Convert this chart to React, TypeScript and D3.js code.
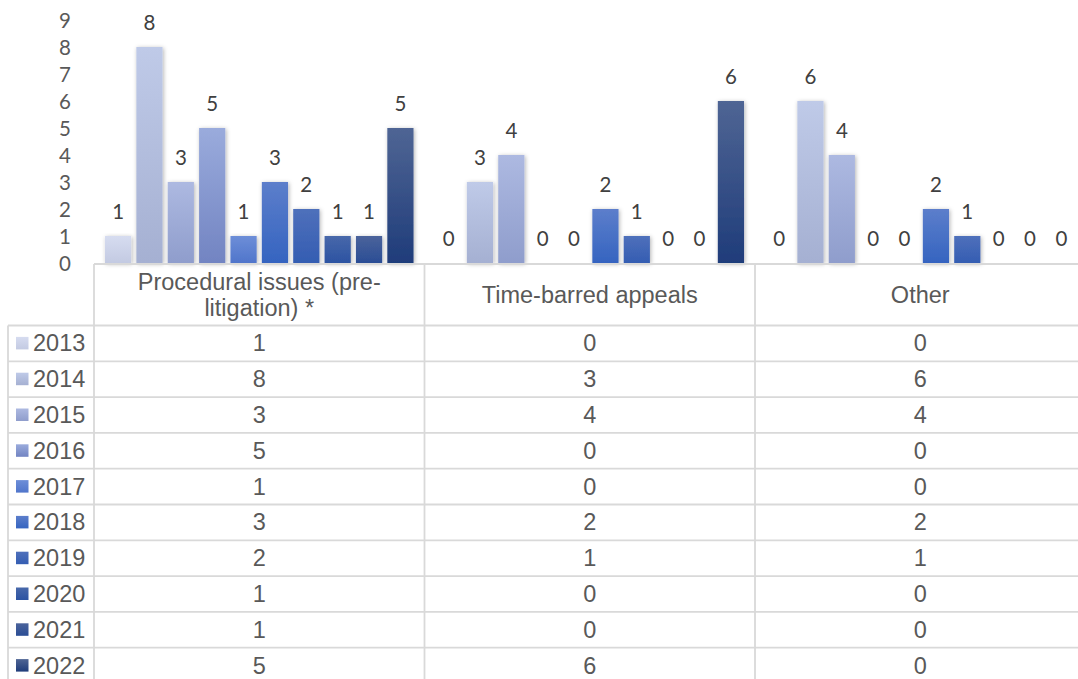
import React from "react";
import * as d3 from "d3";

const categories = ["Procedural issues (pre-litigation) *", "Time-barred appeals", "Other"];
const categoryLines = [["Procedural issues (pre-", "litigation) *"], ["Time-barred appeals"], ["Other"]];
const years = ["2013", "2014", "2015", "2016", "2017", "2018", "2019", "2020", "2021", "2022"];
const procedural = [1, 8, 3, 5, 1, 3, 2, 1, 1, 5];
const timeBarred = [0, 3, 4, 0, 0, 2, 1, 0, 0, 6];
const other = [0, 6, 4, 0, 0, 2, 1, 0, 0, 0];
const seriesByCategory = [procedural, timeBarred, other];
const yTicks = [0, 1, 2, 3, 4, 5, 6, 7, 8, 9];
const topColors = ["#d6dcf0", "#bfcae8", "#adb9e1", "#9aabdc", "#6d8ed8", "#5c7ecb", "#4f70bb", "#4868aa", "#4b639b", "#4f6594"];
const bottomColors = ["#c3cae2", "#a5b0d2", "#8f9dcc", "#7284c2", "#5075cb", "#3564c0", "#345db2", "#2c53a2", "#2a4d95", "#1f3c7a"];

export default function App() {
  const width = 1078;
  const height = 679;
  const plotLeft = 94;
  const catW = 330.5;
  const plotRight = plotLeft + catW * categories.length;
  const y = d3.scaleLinear().domain([0, 9]).range([263, 20]);
  const x0 = d3.scaleBand<string>().domain(categories).range([plotLeft, plotRight]).padding(0);
  const x1 = d3.scaleBand<string>().domain(years).range([0, x0.bandwidth()]).paddingInner(0.165).paddingOuter(0.35);
  const tableTop = 264;
  const headerBottom = 325.5;
  const rowH = 35.8;
  const lineColor = "#d9d9d9";
  const tableFont = "'Liberation Sans', Arial, sans-serif";
  const numFont = "Lato, 'Noto Sans', sans-serif";
  const tfs = 23.5;
  const nfs = 20.5;

  return (
    <svg width={width} height={height} style={{ position: "absolute", left: 0, top: 0, background: "#fff" }}>
      <defs>
        {years.map((yr, i) => (
          <linearGradient key={yr} id={`g${i}`} x1="0" y1="0" x2="0" y2="1">
            <stop offset="0%" stopColor={topColors[i]} />
            <stop offset="100%" stopColor={bottomColors[i]} />
          </linearGradient>
        ))}
        <filter id="sh" x="-30%" y="-10%" width="160%" height="130%">
          <feDropShadow dx="1" dy="1" stdDeviation="2" floodColor="#000" floodOpacity="0.3" />
        </filter>
      </defs>
      <rect x={0} y={0} width={width} height={height} fill="#fff" />

      {/* y tick labels */}
      {yTicks.map((t) => (
        <text key={t} x={71} y={y(t)} textAnchor="end" dominantBaseline="central" fontFamily={numFont} fontSize={nfs} fill="#595959">
          {t}
        </text>
      ))}

      {/* bars */}
      {categories.map((c, ci) => (
        <g key={c} transform={`translate(${x0(c)},0)`}>
          {years.map((yr, i) => {
            const v = seriesByCategory[ci][i];
            const bx = x1(yr)!;
            return (
              <g key={yr}>
                {v > 0 && (
                  <rect x={bx} y={y(v)} width={x1.bandwidth()} height={y(0) - y(v)} fill={`url(#g${i})`} filter="url(#sh)" />
                )}
                <text x={bx + x1.bandwidth() / 2} y={y(v) - 17} textAnchor="middle" fontFamily={numFont} fontSize={nfs} fill="#404040">
                  {v}
                </text>
              </g>
            );
          })}
        </g>
      ))}

      {/* table lines */}
      <line x1={plotLeft} x2={width} y1={tableTop} y2={tableTop} stroke={lineColor} strokeWidth={1.8} />
      {years.map((yr, i) => (
        <line key={yr} x1={8} x2={width} y1={headerBottom + i * rowH} y2={headerBottom + i * rowH} stroke={lineColor} strokeWidth={1.8} />
      ))}
      <line x1={8} x2={8} y1={headerBottom} y2={height} stroke={lineColor} strokeWidth={1.8} />
      {categories.map((c) => (
        <line key={c} x1={x0(c)!} x2={x0(c)!} y1={tableTop} y2={height} stroke={lineColor} strokeWidth={1.8} />
      ))}

      {/* header labels */}
      {categories.map((c, ci) => {
        const lines = categoryLines[ci];
        const cx = x0(c)! + x0.bandwidth() / 2;
        const lh = 26.5;
        const mid = (tableTop + headerBottom) / 2;
        const start = mid - ((lines.length - 1) * lh) / 2;
        return (
          <text key={c} textAnchor="middle" fontFamily={tableFont} fontSize={tfs} fill="#595959">
            {lines.map((l, li) => (
              <tspan key={li} x={cx} y={start + li * lh} dominantBaseline="central">
                {l}
              </tspan>
            ))}
          </text>
        );
      })}

      {/* rows */}
      {years.map((yr, i) => {
        const cy = headerBottom + i * rowH + rowH / 2;
        return (
          <g key={yr}>
            <rect x={16} y={cy - 6.5} width={12.5} height={12.5} fill={`url(#g${i})`} />
            <text x={33} y={cy} dominantBaseline="central" fontFamily={tableFont} fontSize={tfs} fill="#595959">
              {yr}
            </text>
            {categories.map((c, ci) => (
              <text key={c} x={x0(c)! + x0.bandwidth() / 2} y={cy} textAnchor="middle" dominantBaseline="central" fontFamily={tableFont} fontSize={tfs} fill="#595959">
                {seriesByCategory[ci][i]}
              </text>
            ))}
          </g>
        );
      })}
    </svg>
  );
}
